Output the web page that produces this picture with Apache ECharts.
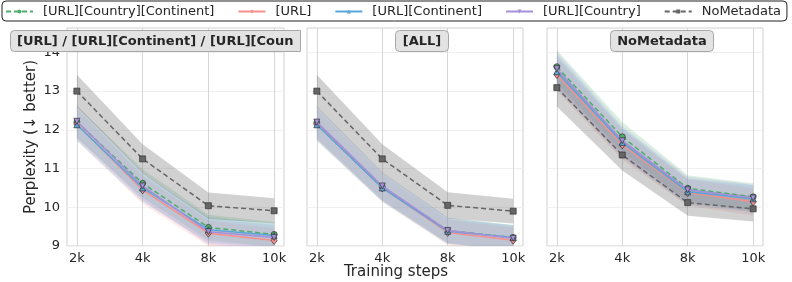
<!DOCTYPE html>
<html><head><meta charset="utf-8">
<script src="https://cdn.jsdelivr.net/npm/echarts@6/dist/echarts.min.js"></script>
<style>html,body{margin:0;padding:0;background:#fff}#c{width:792px;height:282px}</style>
</head><body><div id="c"></div>
<script>
// ---- data ----
const steps = ['2k', '4k', '8k', '10k'];
const yTicks = [9, 10, 11, 12, 13, 14];
const panelTitles = ['[URL] / [URL][Continent] / [URL][Country]', '[ALL]', 'NoMetadata'];
const seriesNames = ['[URL][Country][Continent]', '[URL]', '[URL][Continent]', '[URL][Country]', 'NoMetadata'];

// panel 1: [URL] / [URL][Continent] / [URL][Country]
const p1CountryContinent = [12.20, 10.62, 9.48, 9.30];
const p1Url              = [12.15, 10.45, 9.33, 9.14];
const p1Continent        = [12.13, 10.50, 9.42, 9.27];
const p1Country          = [12.22, 10.55, 9.37, 9.22];
const p1NoMeta           = [13.00, 11.25, 10.04, 9.91];
const p1Spread           = [0.42, 0.36, 0.33, 0.32];
const p1NoMetaSpread     = [0.42, 0.38, 0.34, 0.32];

// panel 2: [ALL]
const p2CountryContinent = [12.18, 10.53, 9.40, 9.22];
const p2Url              = [12.15, 10.50, 9.35, 9.15];
const p2Continent        = [12.13, 10.50, 9.38, 9.22];
const p2Country          = [12.20, 10.55, 9.40, 9.20];
const p2NoMeta           = [13.00, 11.25, 10.05, 9.90];
const p2Spread           = [0.42, 0.36, 0.33, 0.32];
const p2NoMetaSpread     = [0.42, 0.38, 0.34, 0.32];

// panel 3: NoMetadata
const p3CountryContinent = [13.63, 11.82, 10.49, 10.27];
const p3Url              = [13.43, 11.61, 10.38, 10.14];
const p3Continent        = [13.50, 11.67, 10.40, 10.22];
const p3Country          = [13.58, 11.72, 10.45, 10.24];
const p3NoMeta           = [13.09, 11.35, 10.12, 9.96];
const p3Spread           = [0.43, 0.38, 0.34, 0.35];
const p3NoMetaSpread     = [0.49, 0.40, 0.34, 0.33];

// ---- styles ----
const colors = ['#4dae6c', '#f4908e', '#5aa5d8', '#a58fd8', '#666666'];
const symbols = ['circle', 'diamond', 'triangle', 'path://M0,0 L10,0 L5,10 Z', 'rect'];
const dashes = [[5, 3], 'solid', 'solid', 'solid', [5, 3]];
const FONT = 'DejaVu Sans';
const TXT = '#262626';

const panels = [
  {vals: [p1CountryContinent, p1Url, p1Continent, p1Country, p1NoMeta], spread: p1Spread, nmSpread: p1NoMetaSpread},
  {vals: [p2CountryContinent, p2Url, p2Continent, p2Country, p2NoMeta], spread: p2Spread, nmSpread: p2NoMetaSpread},
  {vals: [p3CountryContinent, p3Url, p3Continent, p3Country, p3NoMeta], spread: p3Spread, nmSpread: p3NoMetaSpread}
];

const gridLefts = [67, 307, 547];
const gridWidths = [217, 216, 216];
const gridTop = 28, gridHeight = 218;

const grids = [], xAxes = [], yAxes = [], series = [];
const xIdx = steps.map((s, i) => i);

panels.forEach((p, gi) => {
  grids.push({left: gridLefts[gi], top: gridTop, width: gridWidths[gi], height: gridHeight,
    show: true, borderColor: '#d0d0d0', borderWidth: 1, backgroundColor: 'transparent'});
  xAxes.push({type: 'value', gridIndex: gi, min: -0.15, max: 3.15,
    axisLine: {show: false},
    axisTick: {show: false, customValues: xIdx},
    axisLabel: {customValues: xIdx, formatter: v => steps[Math.round(v)], fontSize: 13, color: TXT, fontFamily: FONT, margin: 6},
    splitLine: {show: true, lineStyle: {color: '#d6d6d6', width: 1}}
  });
  yAxes.push({type: 'value', gridIndex: gi, min: 9, max: 14.63,
    axisLine: {show: false},
    axisTick: {show: false, customValues: yTicks},
    axisLabel: {show: gi === 0, customValues: yTicks, fontSize: 13, color: TXT, fontFamily: FONT, margin: 7},
    splitLine: {show: true, lineStyle: {color: '#f0f0f0', width: 1}}
  });
  p.vals.forEach((vals, si) => {
    const sp = si === 4 ? p.nmSpread : p.spread;
    const lower = vals.map((v, i) => v - sp[i]);
    const upper = vals.map((v, i) => v + sp[i]);
    const fill = echarts.color.modifyAlpha(colors[si], si === 4 ? 0.3 : 0.2);
    series.push({
      type: 'custom', name: 'band' + gi + '_' + si, xAxisIndex: gi, yAxisIndex: gi,
      clip: true, silent: true, z: 1, animation: false,
      data: xIdx.map(i => [i, lower[i], upper[i]]),
      renderItem: function (params, api) {
        if (params.dataIndex !== 0) return null;
        const pts = [];
        for (let i = 0; i < xIdx.length; i++) pts.push(api.coord([i, upper[i]]));
        for (let i = xIdx.length - 1; i >= 0; i--) pts.push(api.coord([i, lower[i]]));
        return {type: 'polygon', shape: {points: pts}, style: {fill: fill}};
      }
    });
  });
  p.vals.forEach((vals, si) => {
    series.push({
      type: 'line', name: seriesNames[si], xAxisIndex: gi, yAxisIndex: gi,
      data: xIdx.map(i => [i, vals[i]]),
      symbol: symbols[si], symbolSize: si === 1 ? [6, 8] : 6,
      showSymbol: true, z: 3 + si, animation: false,
      lineStyle: {color: colors[si], width: 1.5, type: dashes[si]},
      itemStyle: {color: colors[si], borderColor: '#333', borderWidth: 0.7}
    });
  });
});

const titleBase = {top: 30, padding: [5, 7, 4, 7], backgroundColor: '#e3e3e3', borderColor: '#a8a8a8', borderWidth: 1, borderRadius: 4};
const titles = [
  Object.assign({}, titleBase, {text: panelTitles[0], left: 10, borderRadius: [4, 0, 0, 4],
    textStyle: {fontSize: 13, fontWeight: 'bold', color: TXT, fontFamily: FONT, width: 283, overflow: 'truncate', ellipsis: ''}}),
  Object.assign({}, titleBase, {text: panelTitles[1], left: 415, textAlign: 'center',
    textStyle: {fontSize: 13, fontWeight: 'bold', color: TXT, fontFamily: FONT}}),
  Object.assign({}, titleBase, {text: panelTitles[2], left: 655, textAlign: 'center',
    textStyle: {fontSize: 13, fontWeight: 'bold', color: TXT, fontFamily: FONT}})
];

const option = {
  animation: false,
  backgroundColor: '#ffffff',
  textStyle: {fontFamily: FONT},
  title: titles,
  legend: {
    data: seriesNames, left: 2, right: 2, top: 1, orient: 'horizontal',
    padding: [4, 6, 3, 3], itemGap: 23, itemWidth: 27, itemHeight: 5,
    borderColor: '#222', borderWidth: 1, borderRadius: 4, backgroundColor: '#fff',
    itemStyle: {borderWidth: 0},
    textStyle: {fontSize: 13, color: TXT, fontFamily: FONT, padding: [0, 0, 0, 5]}
  },
  grid: grids, xAxis: xAxes, yAxis: yAxes, series: series,
  graphic: [
    {type: 'text', x: 396, y: 272, z: 100, style: {text: 'Training steps', font: '15px "DejaVu Sans"', fill: TXT, align: 'center', verticalAlign: 'middle'}},
    {type: 'text', x: 31, y: 137, rotation: Math.PI / 2, z: 100, style: {text: 'Perplexity (↓ better)', font: '15px "DejaVu Sans"', fill: TXT, align: 'center', verticalAlign: 'middle'}}
  ]
};
const chart = echarts.init(document.getElementById('c'));
chart.setOption(option);
</script>
</body></html>
